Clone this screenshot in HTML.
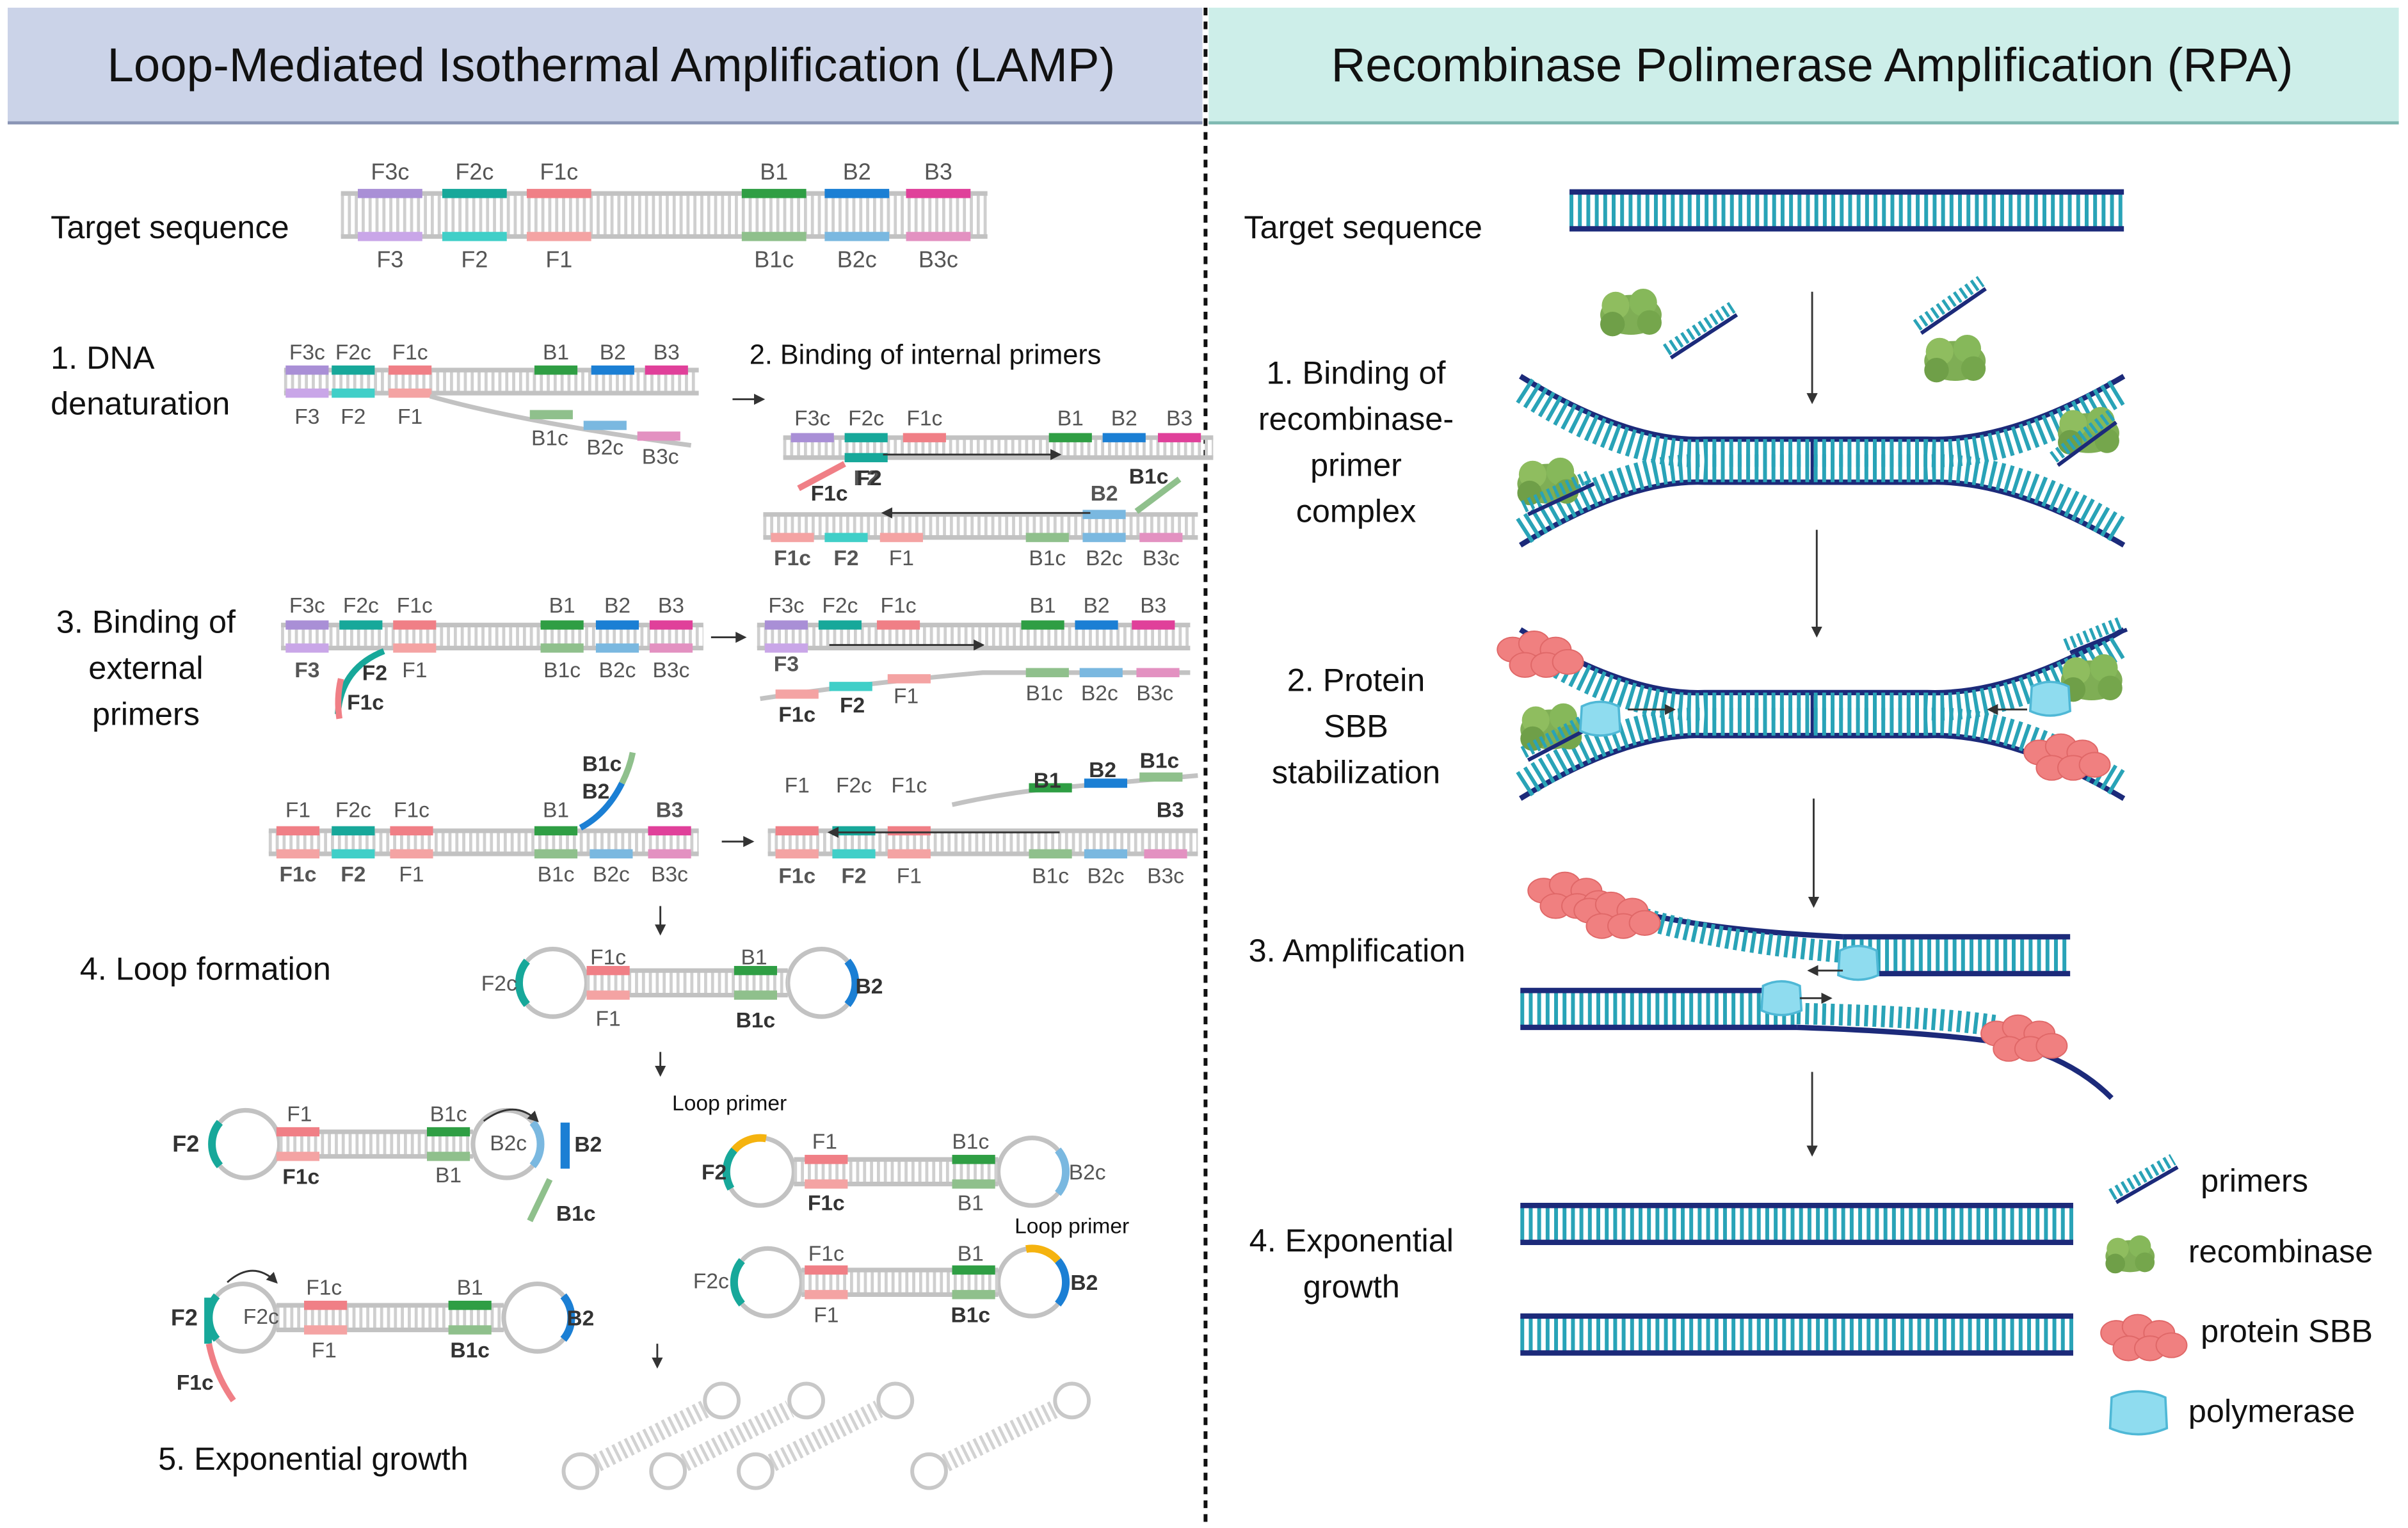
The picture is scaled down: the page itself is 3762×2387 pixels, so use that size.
<!DOCTYPE html>
<html><head><meta charset="utf-8">
<style>
html,body{margin:0;padding:0;background:#fff;}
svg{display:block;}
text{font-family:"Liberation Sans",sans-serif;}
</style></head>
<body>
<svg id="s" width="3762" height="2387" viewBox="0 0 1568 995" preserveAspectRatio="none" xmlns="http://www.w3.org/2000/svg">
<defs>
<marker id="ah" markerWidth="6" markerHeight="6" refX="5" refY="3" orient="auto"><path d="M0,0 L6,3 L0,6 z" fill="#333"/></marker>
</defs>
<rect x="0" y="0" width="1568" height="995" fill="#fff"/>
<rect x="5" y="5" width="778" height="75" fill="#cbd3e8"/>
<line x1="5" y1="80" x2="783" y2="80" stroke="#8a95b5" stroke-width="2"/>
<rect x="787" y="5" width="775" height="75" fill="#cdeee9"/>
<line x1="787" y1="80" x2="1562" y2="80" stroke="#7fb9b2" stroke-width="2"/>
<text x="398" y="53" font-size="31" text-anchor="middle" fill="#111">Loop-Mediated Isothermal Amplification (LAMP)</text>
<text x="1180" y="53" font-size="31" text-anchor="middle" fill="#111">Recombinase Polimerase Amplification (RPA)</text>
<line x1="785" y1="5" x2="785" y2="992" stroke="#111" stroke-width="2.5" stroke-dasharray="5 4"/>
<g id="g"></g>
</svg>
<script>
const G=document.getElementById('g');let out='';
const C={p:'#a98fd6',t:'#17a89a',k:'#f07f86',g:'#2f9e44',b:'#1b7fd4',m:'#e0409a',
 pl:'#c9a6e8',tl:'#40cfc8',kl:'#f4a3a3',gl:'#8fc08c',bl:'#7ab8e0',ml:'#e391c1'};
function T(x,y,s,sz,a,w,c){out+=`<text x="${x}" y="${y}" font-size="${sz||14}" text-anchor="${a||'middle'}" font-weight="${w||'normal'}" fill="${c||'#555'}">${s}</text>`;}
function L(x1,y1,x2,y2,c,w,extra){out+=`<line x1="${x1}" y1="${y1}" x2="${x2}" y2="${y2}" stroke="${c}" stroke-width="${w}" ${extra||''}/>`;}
function lad(x1,x2,y1,y2){L(x1,(y1+y2)/2,x2,(y1+y2)/2,'#cfcfcf',y2-y1,'stroke-dasharray="2 2.5"');L(x1,y1,x2,y1,'#c2c2c2',3);L(x1,y2,x2,y2,'#c2c2c2',3);}
function seg(x,y,w,c){out+=`<rect x="${x}" y="${y-3}" width="${w}" height="6" fill="${C[c]||c}"/>`;}
function P(d,c,w,extra){out+=`<path d="${d}" fill="none" stroke="${c}" stroke-width="${w}" ${extra||''}/>`;}
const K='#111';
T(33,155,'Target sequence',21,'start','normal',K);
T(33,240,'1. DNA',21,'start','normal',K);T(33,270,'denaturation',21,'start','normal',K);
T(488,237,'2. Binding of internal primers',18,'start','normal',K);
T(95,412,'3. Binding of',21,'middle','normal',K);T(95,442,'external',21,'middle','normal',K);T(95,472,'primers',21,'middle','normal',K);
T(52,638,'4. Loop formation',21,'start','normal',K);
T(103,957,'5. Exponential growth',21,'start','normal',K);
lad(222,643,126,154);
[[233,'p','pl','F3c','F3'],[288,'t','tl','F2c','F2'],[343,'k','kl','F1c','F1'],[483,'g','gl','B1','B1c'],[537,'b','bl','B2','B2c'],[590,'m','ml','B3','B3c']].forEach(a=>{seg(a[0],126,42,a[1]);seg(a[0],154,42,a[2]);T(a[0]+21,117,a[3],15);T(a[0]+21,174,a[4],15);});
lad(185,455,241,256);
function row(xs,yt,yb,tl,bl,ty,by,w){xs.forEach((x,i)=>{if(tl[i]&&tl[i][0]){seg(x,yt,w||28,tl[i][0]);T(x+14,ty,tl[i][1],14,'middle',tl[i][2]);} if(bl[i]&&bl[i][0]){seg(x,yb,w||28,bl[i][0]);T(x+14,by,bl[i][1],14,'middle',bl[i][2]);}});}
row([186,216,253,348,385,420],241,256,[['p','F3c'],['t','F2c'],['k','F1c'],['g','B1'],['b','B2'],['m','B3']],[['pl','F3'],['tl','F2'],['kl','F1']],234,276);
P('M280,258 Q340,275 450,290','#c2c2c2',3);seg(345,270,28,'gl');seg(380,277,28,'bl');seg(415,284,28,'ml');
T(358,290,'B1c',14);T(394,296,'B2c',14);T(430,302,'B3c',14);
L(477,260,497,260,'#333',1.2,'marker-end="url(#ah)"');
lad(510,790,285,298);
row([515,550,588,683,718,754],285,298,[['p','F3c'],['t','F2c'],['k','F1c'],['g','B1'],['b','B2'],['m','B3']],[[null],['t','F2','bold']],277,316);
L(575,296,690,296,'#333',1.2,'marker-end="url(#ah)"');
P('M520,318 L550,302','#f07f86',4);T(540,326,'F1c',14,'middle','bold','#333');T(566,316,'F2',14,'middle','bold','#333');
lad(497,780,335,350);
row([502,537,573,668,705,742],335,350,[[null],[null],[null],[null],['bl','B2','bold']],[['kl','F1c','bold'],['tl','F2','bold'],['kl','F1'],['gl','B1c'],['bl','B2c'],['ml','B3c']],326,368);
L(710,334,575,334,'#333',1.2,'marker-end="url(#ah)"');P('M740,333 L768,312','#8fc08c',4);T(748,315,'B1c',14,'middle','bold','#333');
lad(183,458,407,422);
row([186,221,256,352,388,423],407,422,[['p','F3c'],['t','F2c'],['k','F1c'],['g','B1'],['b','B2'],['m','B3']],[['pl','F3','bold'],[null],['kl','F1'],['gl','B1c'],['bl','B2c'],['ml','B3c']],399,441);
P('M250,424 Q222,435 220,465','#17a89a',4);P('M222,442 Q219,455 221,468','#f07f86',4);T(244,443,'F2',14,'middle','bold','#333');T(238,462,'F1c',14,'middle','bold','#333');
L(463,415,485,415,'#333',1.2,'marker-end="url(#ah)"');
lad(493,775,407,422);
row([498,533,571,665,700,737],407,422,[['p','F3c'],['t','F2c'],['k','F1c'],['g','B1'],['b','B2'],['m','B3']],[['pl','F3','bold']],399,437);
L(540,420,640,420,'#333',1.2,'marker-end="url(#ah)"');
P('M495,455 Q560,445 640,438 L775,438','#c2c2c2',3);seg(505,452,28,'kl');seg(540,447,28,'tl');seg(578,442,28,'kl');seg(668,438,28,'gl');seg(703,438,28,'bl');seg(740,438,28,'ml');
T(519,470,'F1c',14,'middle','bold','#333');T(555,464,'F2',14,'middle','bold','#333');T(590,458,'F1',14);T(680,456,'B1c',14);T(716,456,'B2c',14);T(752,456,'B3c',14);
lad(175,455,541,556);
row([180,216,254,348,384,422],541,556,[['k','F1'],['t','F2c'],['k','F1c'],['g','B1'],[null],['m','B3','bold']],[['kl','F1c','bold'],['tl','F2','bold'],['kl','F1'],['gl','B1c'],['bl','B2c'],['ml','B3c']],532,574);
P('M378,539 Q395,530 405,510','#1b7fd4',4);P('M405,510 Q410,500 412,490','#8fc08c',4);T(392,502,'B1c',14,'middle','bold','#333');T(388,520,'B2',14,'middle','bold','#333');
L(470,548,490,548,'#333',1.2,'marker-end="url(#ah)"');
lad(500,780,541,556);
row([505,542,578,670,706,745],541,556,[['k','F1'],['t','F2c'],['k','F1c']],[['kl','F1c','bold'],['tl','F2','bold'],['kl','F1'],['gl','B1c'],['bl','B2c'],['ml','B3c']],516,575);
P('M620,524 Q660,515 700,512 L780,505','#c2c2c2',3);seg(670,513,28,'g');seg(706,510,28,'b');seg(742,506,28,'gl');
T(682,513,'B1',14,'middle','bold','#333');T(718,506,'B2',14,'middle','bold','#333');T(755,500,'B1c',14,'middle','bold','#333');
L(690,542,540,542,'#333',1.2,'marker-end="url(#ah)"');T(762,532,'B3',14,'middle','bold','#333');
[[430,590,608],[430,685,700],[428,875,890],[1180,190,262],[1183,345,414],[1181,520,590],[1180,698,752]].forEach(a=>L(a[0],a[1],a[0],a[2],'#333',1.2,'marker-end="url(#ah)"'));
function dumb(x1,x2,y,r){out+=`<circle cx="${x1}" cy="${y}" r="${r}" fill="#fff" stroke="#c2c2c2" stroke-width="3"/><circle cx="${x2}" cy="${y}" r="${r}" fill="#fff" stroke="#c2c2c2" stroke-width="3"/>`;lad(x1+r,x2-r,y-8,y+8);}
function cap(x,y,r,a1,a2,c){const p=(a)=>[x+r*Math.cos(a*Math.PI/180),y+r*Math.sin(a*Math.PI/180)];const s=p(a1),e=p(a2);P(`M${s[0]},${s[1]} A${r},${r} 0 0 1 ${e[0]},${e[1]}`,C[c]||c,5);}
dumb(360,535,640,22);cap(360,640,22,140,220,'t');cap(535,640,22,-40,40,'b');
seg(382,632,28,'k');seg(382,648,28,'kl');seg(478,632,28,'g');seg(478,648,28,'gl');
T(325,645,'F2c',14);T(396,628,'F1c',14);T(396,668,'F1',14);T(491,628,'B1',14);T(492,669,'B1c',14,'middle','bold','#333');T(566,647,'B2',14,'middle','bold','#333');
dumb(160,330,745,22);cap(160,745,22,140,220,'t');cap(330,745,22,-40,40,'bl');seg(180,737,28,'k');seg(180,753,28,'kl');seg(278,737,28,'g');seg(278,753,28,'gl');
T(121,750,'F2',15,'middle','bold','#333');T(195,730,'F1',14);T(196,771,'F1c',14,'middle','bold','#333');T(292,730,'B1c',14);T(292,770,'B1',14);T(331,749,'B2c',14);
out+=`<rect x="365" y="731" width="6" height="30" fill="${C.b}"/>`;T(383,750,'B2',14,'middle','bold','#333');
P('M358,768 L345,795','#8fc08c',4);T(375,795,'B1c',14,'middle','bold','#333');P('M315,730 Q335,715 350,730','#333',1.2,'marker-end="url(#ah)"');
dumb(158,350,858,22);cap(158,858,22,140,220,'t');cap(350,858,22,-40,40,'b');seg(198,850,28,'k');seg(198,866,28,'kl');seg(292,850,28,'g');seg(292,866,28,'gl');
out+=`<rect x="133" y="845" width="5" height="30" fill="${C.t}"/>`;T(120,863,'F2',15,'middle','bold','#333');T(170,862,'F2c',14);T(211,843,'F1c',14);T(211,884,'F1',14);T(306,843,'B1',14);T(306,884,'B1c',14,'middle','bold','#333');T(378,863,'B2',14,'middle','bold','#333');
P('M136,875 Q140,895 152,912','#f07f86',4);T(127,905,'F1c',14,'middle','bold','#333');P('M148,835 Q165,820 180,835','#333',1.2,'marker-end="url(#ah)"');
dumb(495,672,763,22);cap(495,763,22,150,220,'t');cap(495,763,22,220,280,'#f5b30f');cap(672,763,22,-40,40,'bl');seg(524,755,28,'k');seg(524,771,28,'kl');seg(620,755,28,'g');seg(620,771,28,'gl');
T(475,723,'Loop primer',14,'middle','normal','#111');T(465,768,'F2',14,'middle','bold','#333');T(537,748,'F1',14);T(538,788,'F1c',14,'middle','bold','#333');T(632,748,'B1c',14);T(632,788,'B1',14);T(708,768,'B2c',14);
dumb(500,672,835,22);cap(500,835,22,140,220,'t');cap(672,835,22,-40,40,'b');cap(672,835,22,-100,-40,'#f5b30f');seg(524,827,28,'k');seg(524,843,28,'kl');seg(620,827,28,'g');seg(620,843,28,'gl');
T(698,803,'Loop primer',14,'middle','normal','#111');T(463,839,'F2c',14);T(538,821,'F1c',14);T(538,861,'F1',14);T(632,821,'B1',14);T(632,861,'B1c',14,'middle','bold','#333');T(706,840,'B2',14,'middle','bold','#333');
function lol(x1,y1,x2,y2){const dx=x2-x1,dy=y2-y1,l=Math.hypot(dx,dy),ux=dx/l,uy=dy/l;P(`M${x1+ux*12},${y1+uy*12} L${x2-ux*12},${y2-uy*12}`,'#d2d2d2',12,'stroke-dasharray="2 2.5"');out+=`<circle cx="${x1}" cy="${y1}" r="11" fill="#fff" stroke="#c8c8c8" stroke-width="2.5"/><circle cx="${x2}" cy="${y2}" r="11" fill="#fff" stroke="#c8c8c8" stroke-width="2.5"/>`;}
lol(378,958,470,912);lol(435,958,525,912);lol(492,958,583,912);lol(605,958,698,912);
const N='#1c2a7a',TL='#29a3b7';
T(810,155,'Target sequence',21,'start','normal',K);
T(883,250,'1. Binding of',21,'middle','normal',K);T(883,280,'recombinase-',21,'middle','normal',K);T(883,310,'primer',21,'middle','normal',K);T(883,340,'complex',21,'middle','normal',K);
T(883,450,'2. Protein',21,'middle','normal',K);T(883,480,'SBB',21,'middle','normal',K);T(883,510,'stabilization',21,'middle','normal',K);
T(813,626,'3. Amplification',21,'start','normal',K);
T(880,815,'4. Exponential',21,'middle','normal',K);T(880,845,'growth',21,'middle','normal',K);
function rlad(x1,x2,y){L(x1,y+12,x2,y+12,TL,22,'stroke-dasharray="2.5 3"');L(x1,y,x2,y,N,3.5);L(x1,y+24,x2,y+24,N,3.5);}
rlad(1022,1383,125);
function fork(yt,yb){const m=(yt+yb)/2;
 P(`M990,${yt} Q1060,${m-12} 1110,${m-14} L1255,${m-14} Q1310,${m-12} 1383,${yt}`,N,3.5);
 P(`M992,${yt+9} Q1060,${m-2} 1110,${m-5} L1255,${m-5} Q1310,${m-2} 1381,${yt+9}`,TL,18,'stroke-dasharray="2.5 3"');
 P(`M990,${yb} Q1060,${m+12} 1110,${m+14} L1255,${m+14} Q1310,${m+12} 1383,${yb}`,N,3.5);
 P(`M992,${yb-9} Q1060,${m+2} 1110,${m+5} L1255,${m+5} Q1310,${m+2} 1381,${yb-9}`,TL,18,'stroke-dasharray="2.5 3"');
 L(1180,m-14,1180,m+14,N,2);}
fork(245,355);fork(410,520);
function rec(x,y,s){s=s||1;out+=`<g transform="translate(${x},${y}) scale(${s})"><ellipse cx="0" cy="0" rx="20" ry="13" fill="#7fae55"/><circle cx="-10" cy="-6" r="9" fill="#8fbd5f"/><circle cx="8" cy="-8" r="9" fill="#86b85a"/><circle cx="12" cy="5" r="8" fill="#75a64c"/><circle cx="-12" cy="6" r="8" fill="#6f9f48"/></g>`;}
function prim(x1,y1,x2,y2){P(`M${x1},${y1} L${x2},${y2}`,TL,8,'stroke-dasharray="2 2.5"');P(`M${x1+3},${y1+5} L${x2+3},${y2+5}`,N,2.5);}
function sbb(x,y){[[0,0],[14,-4],[28,0],[8,10],[22,10],[36,8]].forEach(p=>out+=`<ellipse cx="${x+p[0]}" cy="${y+p[1]}" rx="10" ry="8" fill="#f08080" stroke="#e06868" stroke-width="0.8"/>`);}
function pol(x,y){out+=`<path d="M${x-12},${y-8} Q${x},${y-14} ${x+12},${y-8} L${x+13},${y+8} Q${x},${y+14} ${x-13},${y+8} Z" fill="#8fdcef" stroke="#4fb8d6" stroke-width="1.5"/>`;}
prim(1085,228,1128,200);rec(1062,205);prim(1248,212,1290,183);rec(1273,235);
rec(1008,315);prim(992,330,1035,310);rec(1360,282);prim(1337,298,1375,270);
sbb(985,423);sbb(1328,490);rec(1010,475);prim(992,490,1030,470);pol(1042,468);L(1060,462,1090,462,'#333',1.2,'marker-end="url(#ah)"');
rec(1362,443);pol(1335,455);L(1320,462,1295,462,'#333',1.2,'marker-end="url(#ah)"');prim(1345,420,1382,405);
L(1200,622,1348,622,TL,22,'stroke-dasharray="2.5 3"');L(1200,610,1348,610,N,3.5);L(1200,634,1348,634,N,3.5);
P('M1035,585 Q1090,605 1200,610','#1c2a7a',3.5);P('M1060,595 Q1120,614 1200,620','#29a3b7',14,'stroke-dasharray="2.5 3"');
L(990,657,1170,657,TL,22,'stroke-dasharray="2.5 3"');L(990,645,1170,645,N,3.5);L(990,669,1170,669,N,3.5);
P('M1170,669 Q1260,672 1310,680 Q1350,690 1375,715','#1c2a7a',3.5);P('M1170,660 Q1260,662 1300,668','#29a3b7',14,'stroke-dasharray="2.5 3"');
sbb(1005,580);sbb(1035,593);sbb(1300,673);pol(1210,627);pol(1160,650);
L(1200,632,1178,632,'#333',1.2,'marker-end="url(#ah)"');L(1172,650,1192,650,'#333',1.2,'marker-end="url(#ah)"');
rlad(990,1350,785);rlad(990,1350,857);
prim(1375,778,1415,755);T(1433,776,'primers',21,'start','normal',K);
rec(1387,818,0.8);T(1425,822,'recombinase',21,'start','normal',K);
sbb(1378,868);T(1433,874,'protein SBB',21,'start','normal',K);
out+=`<path d="M1375,910 Q1392,902 1410,910 L1411,930 Q1392,938 1374,930 Z" fill="#8fdcef" stroke="#4fb8d6" stroke-width="1.5"/>`;T(1425,926,'polymerase',21,'start','normal',K);
G.innerHTML=out;
</script>
</body></html>
